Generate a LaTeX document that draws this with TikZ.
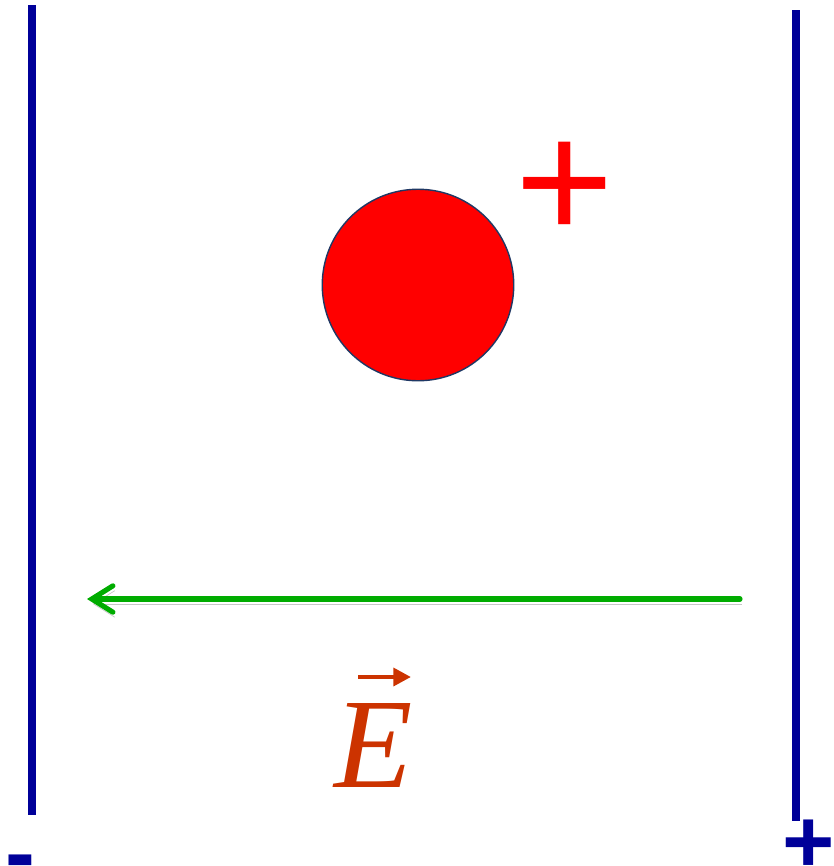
\documentclass[tikz,border=0pt]{standalone}
\usepackage{fontspec}
\setmainfont{Liberation Serif}
\newfontfamily\signfont{Liberation Sans}
\usetikzlibrary{arrows.meta}
\definecolor{platecol}{RGB}{0,0,153}
\definecolor{fieldcol}{RGB}{0,172,0}
\definecolor{labelcol}{RGB}{204,51,0}
\definecolor{rimcol}{RGB}{31,56,100}

\begin{document}
\begin{tikzpicture}[x=0.02cm,y=-0.02cm,
    plate/.style={platecol,line width=4.5pt},
    efield/.style={fieldcol,line width=2.9pt,line cap=round,
        -{Straight Barb[length=12pt,width=15pt,line cap=round]},
        preaction={draw=black!22,transform canvas={shift={(1pt,-2.8pt)}}}},
    sign/.style={inner sep=0pt,anchor=base,font=\signfont\bfseries}]
        \useasboundingbox (0,0) rectangle (833,866);
        % plates
        \coordinate (lt) at (32,5);
        \coordinate (lb) at (32,815);
        \coordinate (rt) at (796,10);
        \coordinate (rb) at (796,821);
        \draw[plate] (lt) -- (lb);
        \draw[plate] (rt) -- (rb);
        \node[sign,platecol,font=\signfont\bfseries\fontsize{51}{51}\selectfont] (minus) at (20,883) {-};
        \node[sign,platecol,font=\signfont\bfseries\fontsize{51}{51}\selectfont] (plus) at (809,872) {+};
        % charge
        \node[circle,fill=red,draw=rimcol,line width=0.8pt,minimum size=109pt,inner sep=0pt] (q) at (418,285) {};
        \node[sign,red,font=\signfont\fontsize{96}{96}\selectfont] (qsign) at (565,239) {+};
        % field
        \coordinate (src) at (740,599);
        \coordinate (tip) at (87,599);
        \draw[efield] (src) -- (tip);
        \node[inner sep=0pt,anchor=base,labelcol,font=\itshape\fontsize{73}{73}\selectfont] (E) at (374,787) {E};
        \draw[labelcol,line width=2.8pt,-{Triangle[length=10pt,width=10pt]}] ([shift={(-16,-110)}]E.base) -- ([shift={(37,-110)}]E.base);
    \end{tikzpicture}
\end{document}
